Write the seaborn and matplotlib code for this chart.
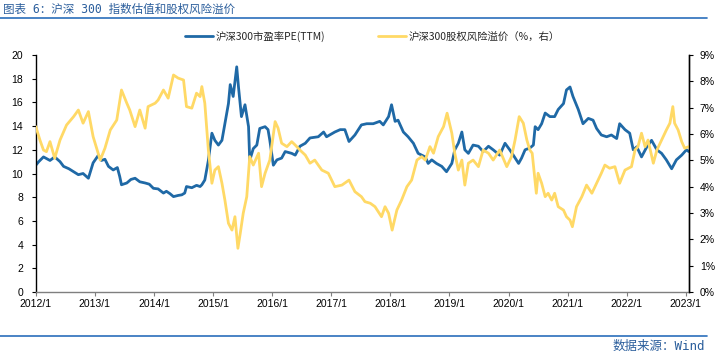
import matplotlib
matplotlib.use('Agg')
import matplotlib.pyplot as plt
import seaborn as sns
from matplotlib.lines import Line2D
from matplotlib.ticker import FuncFormatter

# CSI 300 PE (TTM) (x in decimal years)
pe_year = [2012.00, 2012.05, 2012.13, 2012.24, 2012.32, 2012.41, 2012.47, 2012.56, 2012.64, 2012.72,
           2012.80, 2012.89, 2012.97, 2013.06, 2013.11, 2013.17, 2013.23, 2013.31, 2013.38, 2013.42,
           2013.45, 2013.54, 2013.61, 2013.68, 2013.76, 2013.85, 2013.92, 2013.99, 2014.07, 2014.16,
           2014.21, 2014.27, 2014.33, 2014.41, 2014.47, 2014.52, 2014.55, 2014.64, 2014.72, 2014.78,
           2014.81, 2014.86, 2014.92, 2014.98, 2015.03, 2015.09, 2015.15, 2015.20, 2015.26, 2015.29,
           2015.34, 2015.40, 2015.43, 2015.48, 2015.54, 2015.60, 2015.62, 2015.68, 2015.74, 2015.79,
           2015.88, 2015.93, 2015.96, 2016.02, 2016.08, 2016.16, 2016.22, 2016.33, 2016.39, 2016.47,
           2016.56, 2016.64, 2016.78, 2016.87, 2016.92, 2017.06, 2017.15, 2017.23, 2017.30, 2017.40,
           2017.51, 2017.60, 2017.71, 2017.82, 2017.88, 2017.97, 2018.02, 2018.08, 2018.13, 2018.22,
           2018.30, 2018.39, 2018.47, 2018.59, 2018.64, 2018.70, 2018.78, 2018.87, 2018.95, 2019.04,
           2019.09, 2019.15, 2019.21, 2019.26, 2019.32, 2019.40, 2019.49, 2019.57, 2019.66, 2019.74,
           2019.85, 2019.94, 2020.02, 2020.08, 2020.17, 2020.22, 2020.28, 2020.36, 2020.42, 2020.45,
           2020.50, 2020.56, 2020.62, 2020.70, 2020.78, 2020.84, 2020.93, 2020.98, 2021.04, 2021.09,
           2021.18, 2021.26, 2021.35, 2021.43, 2021.49, 2021.57, 2021.66, 2021.74, 2021.83, 2021.88,
           2021.97, 2022.05, 2022.11, 2022.17, 2022.25, 2022.34, 2022.42, 2022.51, 2022.59, 2022.67,
           2022.76, 2022.84, 2022.93, 2023.01, 2023.05]
pe_value = [10.7, 11.0, 11.4, 11.1, 11.4, 11.0, 10.6, 10.4, 10.15, 9.9,
            10.0, 9.6, 10.9, 11.55, 11.1, 11.2, 10.6, 10.3, 10.5, 9.75,
            9.05, 9.2, 9.5, 9.6, 9.3, 9.2, 9.1, 8.75, 8.7, 8.35,
            8.5, 8.3, 8.05, 8.15, 8.2, 8.35, 8.9, 8.8, 9.0, 8.9,
            9.05, 9.45, 11.1, 13.4, 12.8, 12.4, 12.8, 14.2, 15.9, 17.5,
            16.5, 19.0, 17.3, 14.8, 15.8, 13.95, 11.1, 12.1, 12.4, 13.8,
            13.95, 13.7, 12.8, 10.7, 11.15, 11.3, 11.85, 11.7, 11.55, 12.3,
            12.55, 13.0, 13.1, 13.5, 13.1, 13.5, 13.7, 13.7, 12.7, 13.25,
            14.1, 14.2, 14.2, 14.4, 14.1, 14.8, 15.8, 14.4, 14.5, 13.5,
            13.1, 12.55, 11.7, 11.4, 10.85, 11.15, 10.85, 10.6, 10.15, 10.85,
            12.0, 12.55, 13.5, 12.0, 11.7, 12.4, 12.3, 11.85, 12.3, 12.0,
            11.55, 12.55, 12.0, 11.55, 10.85, 11.3, 12.0, 12.15, 12.4, 13.95,
            13.7, 14.2, 15.1, 14.8, 14.8, 15.4, 15.9, 17.05, 17.3, 16.5,
            15.4, 14.2, 14.65, 14.5, 13.8, 13.25, 13.1, 13.25, 12.95, 14.2,
            13.7, 13.4, 12.0, 12.25, 11.4, 12.25, 12.8, 12.0, 11.7, 11.15,
            10.4, 11.15, 11.55, 12.0, 11.85]

# CSI 300 equity risk premium (%, right axis)
erp_year = [2012.00, 2012.07, 2012.13, 2012.18, 2012.24, 2012.32, 2012.41, 2012.52, 2012.64, 2012.72,
            2012.80, 2012.89, 2012.97, 2013.09, 2013.17, 2013.26, 2013.37, 2013.45, 2013.54, 2013.59,
            2013.68, 2013.76, 2013.85, 2013.90, 2014.02, 2014.07, 2014.16, 2014.24, 2014.33, 2014.41,
            2014.50, 2014.55, 2014.64, 2014.72, 2014.78, 2014.81, 2014.86, 2014.92, 2014.98, 2015.03,
            2015.09, 2015.15, 2015.20, 2015.26, 2015.32, 2015.37, 2015.42, 2015.46, 2015.51, 2015.57,
            2015.62, 2015.68, 2015.77, 2015.82, 2015.88, 2015.96, 2016.05, 2016.10, 2016.16, 2016.25,
            2016.33, 2016.39, 2016.47, 2016.56, 2016.64, 2016.72, 2016.84, 2016.95, 2017.06, 2017.18,
            2017.30, 2017.40, 2017.51, 2017.57, 2017.66, 2017.74, 2017.85, 2017.91, 2017.97, 2018.03,
            2018.11, 2018.19, 2018.28, 2018.36, 2018.45, 2018.53, 2018.59, 2018.67, 2018.73, 2018.81,
            2018.90, 2018.96, 2019.04, 2019.09, 2019.15, 2019.21, 2019.26, 2019.32, 2019.40, 2019.49,
            2019.57, 2019.66, 2019.74, 2019.85, 2019.97, 2020.05, 2020.11, 2020.18, 2020.25, 2020.31,
            2020.36, 2020.40, 2020.47, 2020.50, 2020.56, 2020.62, 2020.67, 2020.73, 2020.78, 2020.84,
            2020.93, 2020.98, 2021.04, 2021.08, 2021.15, 2021.24, 2021.32, 2021.41, 2021.49, 2021.57,
            2021.63, 2021.71, 2021.80, 2021.88, 2021.97, 2022.08, 2022.14, 2022.19, 2022.25, 2022.31,
            2022.36, 2022.45, 2022.51, 2022.59, 2022.67, 2022.73, 2022.78, 2022.81, 2022.87, 2022.93,
            2022.98, 2023.05]
erp_value = [6.28, 5.77, 5.39, 5.33, 5.71, 5.08, 5.77, 6.34, 6.66, 6.91,
             6.41, 6.85, 5.90, 5.01, 5.46, 6.15, 6.53, 7.67, 7.17, 6.91,
             6.28, 6.91, 6.22, 7.04, 7.17, 7.29, 7.67, 7.36, 8.24, 8.12,
             8.05, 7.04, 6.98, 7.55, 7.42, 7.80, 7.17, 5.39, 4.13, 4.63,
             4.76, 4.13, 3.49, 2.61, 2.35, 2.86, 1.66, 2.23, 2.99, 3.62,
             5.14, 4.82, 5.27, 4.00, 4.51, 5.01, 6.47, 6.22, 5.65, 5.52,
             5.71, 5.58, 5.39, 5.20, 4.89, 5.01, 4.63, 4.51, 4.00, 4.06,
             4.25, 3.81, 3.62, 3.43, 3.37, 3.24, 2.86, 3.24, 2.99, 2.35,
             3.11, 3.49, 4.00, 4.25, 5.01, 5.14, 5.01, 5.52, 5.27, 5.90,
             6.28, 6.79, 6.03, 5.27, 4.63, 5.01, 4.06, 4.89, 5.01, 4.76,
             5.39, 5.27, 5.01, 5.39, 4.76, 5.14, 5.77, 6.66, 6.41, 5.77,
             5.39, 5.27, 3.75, 4.51, 4.13, 3.62, 3.75, 3.49, 3.75, 3.24,
             3.11, 2.86, 2.73, 2.48, 3.24, 3.62, 4.06, 3.75, 4.13, 4.51,
             4.82, 4.70, 4.76, 4.13, 4.63, 4.76, 5.39, 5.52, 6.03, 5.52,
             5.77, 4.89, 5.39, 5.77, 6.15, 6.41, 7.04, 6.41, 6.15, 5.71,
             5.46, 5.52]

years = list(range(2012, 2024))
year_labels = [f'{y}/1' for y in years]
pe_ticks = list(range(0, 21, 2))
erp_ticks = list(range(0, 10))

blue = '#1F69A6'
yellow = '#FFD966'
title_blue = '#2B5E9C'

sns.set_theme(style='ticks')
num_font = ['Liberation Sans Narrow', 'Liberation Sans', 'DejaVu Sans']
cjk_font = ['Liberation Sans Narrow', 'Noto Sans CJK SC', 'DejaVu Sans']
mono_cjk = ['DejaVu Sans Mono', 'Noto Sans CJK SC']
plt.rcParams['font.family'] = num_font

fig = plt.figure(figsize=(7.16, 3.57), dpi=100)
ax = fig.add_axes([0.05, 0.182, 0.912, 0.664])
ax2 = ax.twinx()

sns.lineplot(x=pe_year, y=pe_value, ax=ax, color=blue, linewidth=2.0)
sns.lineplot(x=erp_year, y=erp_value, ax=ax2, color=yellow, linewidth=2.0)

ax.set_xlim(2012.0, 2023.05)
ax.set_ylim(0, 20)
ax2.set_ylim(0, 9)
ax.set_xticks(years)
ax.set_xticklabels(year_labels)
ax.set_yticks(pe_ticks)
ax2.set_yticks(erp_ticks)
ax2.yaxis.set_major_formatter(FuncFormatter(lambda v, p: f'{int(v)}%'))

for a in (ax, ax2):
    a.spines['top'].set_visible(False)
    a.set_xlabel('')
    a.set_ylabel('')
    a.grid(False)
ax.spines['left'].set_color('black')
ax2.spines['right'].set_color('black')
ax.spines['bottom'].set_color('#7f7f7f')
ax2.spines['left'].set_visible(False)
ax2.spines['bottom'].set_visible(False)
for s in ('left', 'right', 'bottom'):
    ax.spines[s].set_linewidth(1.0)
    ax2.spines[s].set_linewidth(1.0)

ax.tick_params(axis='y', length=3, width=0.8, pad=6, labelsize=7.5, colors='black')
ax2.tick_params(axis='y', length=3, width=0.8, pad=5, labelsize=7.5, colors='black')
ax.tick_params(axis='x', length=3, width=0.8, pad=2, labelsize=7.5, colors='black')
ax.tick_params(axis='x', color='#7f7f7f')

handles = [Line2D([], [], color=blue, linewidth=2.0), Line2D([], [], color=yellow, linewidth=2.0)]
labels = ['沪深300市盈率PE(TTM)', '沪深300股权风险溢价（%，右）']
fig.legend(handles, labels, loc='center', bbox_to_anchor=(0.52, 0.899), ncol=2, frameon=False,
           prop={'family': cjk_font, 'size': 7.5}, handlelength=2.7, handletextpad=0.3,
           columnspacing=5.0)

# header and footer
fig.text(0.004, 0.975, '图表 6：沪深 300 指数估值和股权风险溢价', color=title_blue,
         fontsize=8.3, family=mono_cjk, va='center', ha='left')
fig.add_artist(Line2D([0, 0.987], [0.949, 0.949], transform=fig.transFigure, color='#2A6EBB', linewidth=1.2))
fig.add_artist(Line2D([0, 0.987], [0.059, 0.059], transform=fig.transFigure, color='#2A6EBB', linewidth=1.2))
fig.text(0.985, 0.029, '数据来源：Wind', color=title_blue, fontsize=9,
         family=mono_cjk, va='center', ha='right')

fig.savefig('out.png', dpi=100)
